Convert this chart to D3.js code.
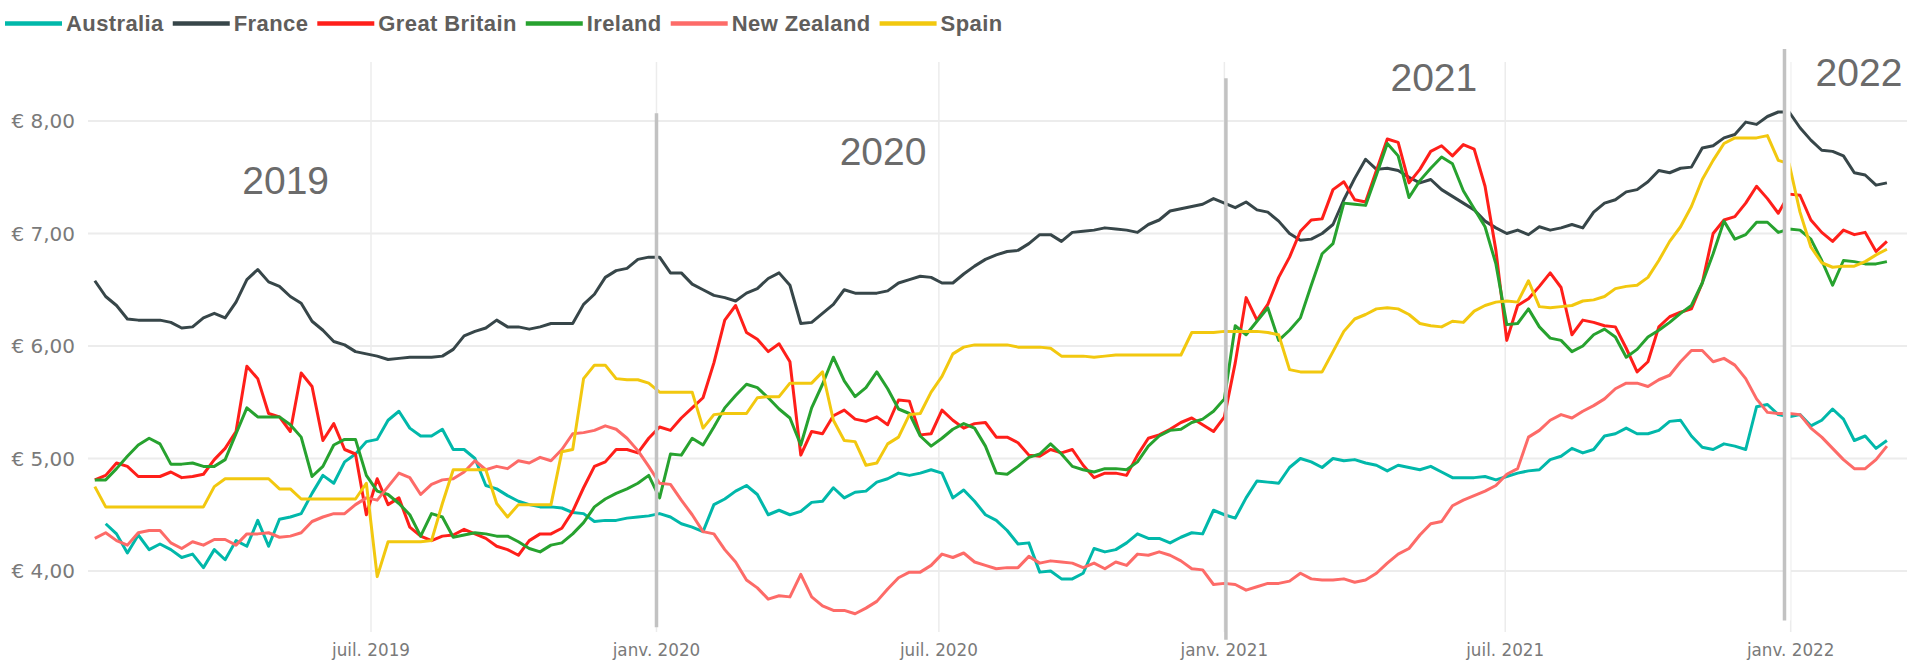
<!DOCTYPE html>
<html>
<head>
<meta charset="utf-8">
<script src="https://cdn.jsdelivr.net/npm/d3@7"></script>
<style>
  body { margin: 0; background: #fff; }
  svg { display: block; }
</style>
</head>
<body>
<div id="chart"></div>
<script>
// weekly prices, first week starts 4 Jan 2019
const firstWeek = "2019-01-04"
const countries = ["Australia", "France", "Great Britain", "Ireland", "New Zealand", "Spain"]
const colors = ["#01B8AA", "#374649", "#FF1F1A", "#27A22F", "#FD6B68", "#F2C80F"]

const australia = [null, 4.42, 4.33, 4.16, 4.32, 4.19, 4.24, 4.19, 4.12, 4.15, 4.03, 4.19, 4.10, 4.27, 4.22, 4.45, 4.22, 4.46, 4.48, 4.51, 4.69, 4.85, 4.78, 4.97, 5.04, 5.15, 5.17, 5.34,
  5.42, 5.27, 5.20, 5.20, 5.26, 5.08, 5.08, 5.00, 4.76, 4.73, 4.67, 4.62, 4.59, 4.57, 4.57, 4.56, 4.52, 4.51, 4.44, 4.45, 4.45, 4.47, 4.48, 4.49, 4.51, 4.48, 4.42,
  4.39, 4.35, 4.59, 4.64, 4.71, 4.76, 4.68, 4.50, 4.54, 4.50, 4.53, 4.61, 4.62, 4.74, 4.65, 4.70, 4.71, 4.79, 4.82, 4.87, 4.85, 4.87, 4.90, 4.87, 4.65, 4.72, 4.62,
  4.50, 4.45, 4.36, 4.24, 4.25, 3.99, 4.00, 3.93, 3.93, 3.98, 4.20, 4.17, 4.19, 4.25, 4.33, 4.29, 4.29, 4.25, 4.30, 4.34, 4.33, 4.54, 4.50, 4.47, 4.65, 4.80, 4.79,
  4.78, 4.92, 5.00, 4.97, 4.92, 5.00, 4.98, 4.99, 4.96, 4.94, 4.89, 4.94, 4.92, 4.90, 4.93, 4.88, 4.83, 4.83, 4.83, 4.84, 4.81, 4.84, 4.87, 4.89, 4.90, 4.99, 5.02,
  5.09, 5.05, 5.08, 5.20, 5.22, 5.27, 5.22, 5.22, 5.25, 5.33, 5.34, 5.20, 5.10, 5.08, 5.13, 5.11, 5.08, 5.46, 5.48, 5.39, 5.37, 5.39, 5.29, 5.34, 5.44, 5.35, 5.16, 5.20, 5.09, 5.16]

const france = [6.58, 6.44, 6.36, 6.24, 6.23, 6.23, 6.23, 6.21, 6.16, 6.17, 6.25, 6.29, 6.25, 6.39, 6.59, 6.68, 6.57, 6.53, 6.44, 6.38, 6.22, 6.14, 6.04, 6.01, 5.95, 5.93, 5.91, 5.88,
  5.89, 5.90, 5.90, 5.90, 5.91, 5.97, 6.09, 6.13, 6.16, 6.23, 6.17, 6.17, 6.15, 6.17, 6.20, 6.20, 6.20, 6.37, 6.46, 6.61, 6.67, 6.69, 6.77, 6.79, 6.79, 6.65, 6.65,
  6.55, 6.50, 6.45, 6.43, 6.40, 6.47, 6.51, 6.60, 6.65, 6.54, 6.20, 6.21, 6.29, 6.37, 6.50, 6.47, 6.47, 6.47, 6.49, 6.56, 6.59, 6.62, 6.61, 6.56, 6.56, 6.64, 6.71,
  6.77, 6.81, 6.84, 6.85, 6.91, 6.99, 6.99, 6.93, 7.01, 7.02, 7.03, 7.05, 7.04, 7.03, 7.01, 7.08, 7.12, 7.20, 7.22, 7.24, 7.26, 7.31, 7.27, 7.23, 7.28, 7.21, 7.19,
  7.11, 7.00, 6.94, 6.95, 7.00, 7.08, 7.30, 7.49, 7.66, 7.57, 7.58, 7.56, 7.50, 7.45, 7.48, 7.39, 7.33, 7.27, 7.21, 7.11, 7.05, 7.00, 7.03, 6.99, 7.06, 7.03, 7.05,
  7.08, 7.05, 7.19, 7.27, 7.30, 7.37, 7.39, 7.46, 7.56, 7.54, 7.58, 7.59, 7.76, 7.78, 7.85, 7.88, 7.99, 7.97, 8.04, 8.08, 8.08, 7.94, 7.83, 7.74, 7.73, 7.69, 7.54, 7.52, 7.43, 7.45]

const greatBritain = [4.81, 4.85, 4.96, 4.93, 4.84, 4.84, 4.84, 4.88, 4.83, 4.84, 4.86, 4.99, 5.09, 5.24, 5.82, 5.71, 5.40, 5.37, 5.24, 5.76, 5.64, 5.16, 5.31, 5.08, 5.04, 4.50, 4.82, 4.59,
  4.65, 4.39, 4.31, 4.27, 4.31, 4.32, 4.37, 4.33, 4.29, 4.22, 4.19, 4.14, 4.27, 4.33, 4.33, 4.38, 4.53, 4.74, 4.93, 4.97, 5.08, 5.08, 5.05, 5.18, 5.28, 5.25, 5.36,
  5.45, 5.54, 5.85, 6.23, 6.36, 6.12, 6.06, 5.95, 6.02, 5.86, 5.03, 5.24, 5.22, 5.38, 5.43, 5.35, 5.33, 5.37, 5.30, 5.52, 5.51, 5.21, 5.22, 5.43, 5.34, 5.27, 5.31,
  5.32, 5.19, 5.19, 5.14, 5.03, 5.02, 5.08, 5.05, 5.08, 4.94, 4.83, 4.87, 4.87, 4.85, 5.03, 5.18, 5.21, 5.26, 5.32, 5.36, 5.30, 5.24, 5.37, 5.85, 6.43, 6.23, 6.37,
  6.61, 6.79, 7.02, 7.12, 7.13, 7.39, 7.46, 7.30, 7.28, 7.56, 7.84, 7.81, 7.45, 7.57, 7.73, 7.78, 7.69, 7.79, 7.75, 7.42, 6.85, 6.05, 6.36, 6.42, 6.53, 6.65, 6.52,
  6.10, 6.23, 6.21, 6.18, 6.17, 5.98, 5.77, 5.86, 6.17, 6.26, 6.30, 6.33, 6.56, 7.00, 7.12, 7.15, 7.27, 7.42, 7.31, 7.18, 7.35, 7.34, 7.12, 7.01, 6.93, 7.03, 6.99, 7.01, 6.84, 6.93]

const ireland = [4.81, 4.81, 4.91, 5.02, 5.12, 5.18, 5.13, 4.95, 4.95, 4.96, 4.93, 4.93, 4.99, 5.22, 5.45, 5.37, 5.37, 5.37, 5.30, 5.19, 4.84, 4.93, 5.12, 5.17, 5.17, 4.85, 4.71, 4.68,
  4.60, 4.50, 4.31, 4.51, 4.48, 4.30, 4.32, 4.34, 4.33, 4.31, 4.31, 4.26, 4.20, 4.17, 4.23, 4.25, 4.33, 4.43, 4.57, 4.64, 4.69, 4.73, 4.78, 4.85, 4.65, 5.04, 5.03,
  5.18, 5.12, 5.28, 5.45, 5.56, 5.66, 5.63, 5.54, 5.44, 5.36, 5.12, 5.45, 5.66, 5.90, 5.69, 5.55, 5.63, 5.77, 5.62, 5.44, 5.40, 5.20, 5.11, 5.18, 5.26, 5.31, 5.27,
  5.11, 4.87, 4.86, 4.93, 5.01, 5.04, 5.13, 5.04, 4.93, 4.90, 4.88, 4.91, 4.91, 4.90, 4.97, 5.11, 5.20, 5.25, 5.26, 5.32, 5.35, 5.42, 5.53, 6.18, 6.10, 6.22, 6.34,
  6.05, 6.14, 6.25, 6.54, 6.82, 6.91, 7.27, 7.26, 7.25, 7.52, 7.80, 7.69, 7.32, 7.47, 7.58, 7.68, 7.62, 7.38, 7.22, 7.06, 6.73, 6.19, 6.20, 6.33, 6.17, 6.07, 6.05,
  5.95, 6.00, 6.10, 6.15, 6.08, 5.90, 5.97, 6.08, 6.14, 6.21, 6.29, 6.36, 6.56, 6.82, 7.11, 6.95, 6.99, 7.10, 7.10, 7.01, 7.04, 7.03, 6.95, 6.76, 6.54, 6.76, 6.75, 6.73, 6.73, 6.75]

const newZealand = [4.29, 4.34, 4.27, 4.23, 4.34, 4.36, 4.36, 4.25, 4.20, 4.26, 4.23, 4.28, 4.28, 4.23, 4.33, 4.33, 4.34, 4.30, 4.31, 4.34, 4.44, 4.48, 4.51, 4.51, 4.59, 4.65, 4.63, 4.75,
  4.87, 4.83, 4.68, 4.77, 4.81, 4.82, 4.88, 4.98, 4.90, 4.93, 4.91, 4.98, 4.96, 5.01, 4.98, 5.08, 5.22, 5.23, 5.25, 5.29, 5.26, 5.18, 5.07, 4.93, 4.78, 4.77, 4.63,
  4.50, 4.35, 4.33, 4.19, 4.08, 3.92, 3.85, 3.75, 3.78, 3.77, 3.97, 3.77, 3.69, 3.65, 3.65, 3.62, 3.67, 3.73, 3.84, 3.94, 3.99, 3.99, 4.05, 4.15, 4.12, 4.16, 4.08,
  4.05, 4.02, 4.03, 4.03, 4.13, 4.07, 4.09, 4.08, 4.07, 4.03, 4.07, 4.02, 4.08, 4.05, 4.15, 4.14, 4.17, 4.14, 4.09, 4.02, 4.01, 3.88, 3.89, 3.88, 3.83, 3.86, 3.89,
  3.89, 3.91, 3.98, 3.93, 3.92, 3.92, 3.93, 3.90, 3.92, 3.98, 4.07, 4.15, 4.20, 4.32, 4.42, 4.44, 4.58, 4.63, 4.67, 4.71, 4.76, 4.86, 4.91, 5.19, 5.25, 5.34, 5.39,
  5.36, 5.42, 5.47, 5.53, 5.62, 5.67, 5.67, 5.64, 5.70, 5.74, 5.86, 5.96, 5.96, 5.86, 5.89, 5.83, 5.71, 5.53, 5.41, 5.40, 5.40, 5.39, 5.27, 5.19, 5.09, 4.99, 4.91, 4.91, 4.99, 5.11]

const spain = [4.75, 4.57, 4.57, 4.57, 4.57, 4.57, 4.57, 4.57, 4.57, 4.57, 4.57, 4.75, 4.82, 4.82, 4.82, 4.82, 4.82, 4.73, 4.73, 4.64, 4.64, 4.64, 4.64, 4.64, 4.64, 4.78, 3.95, 4.26,
  4.26, 4.26, 4.26, 4.27, 4.60, 4.90, 4.90, 4.90, 4.90, 4.60, 4.48, 4.59, 4.59, 4.59, 4.59, 5.06, 5.08, 5.71, 5.83, 5.83, 5.71, 5.70, 5.70, 5.67, 5.59, 5.59, 5.59,
  5.59, 5.27, 5.39, 5.40, 5.40, 5.40, 5.54, 5.55, 5.55, 5.67, 5.67, 5.67, 5.77, 5.34, 5.16, 5.15, 4.94, 4.96, 5.13, 5.19, 5.39, 5.40, 5.59, 5.73, 5.93, 5.99, 6.01,
  6.01, 6.01, 6.01, 5.99, 5.99, 5.99, 5.98, 5.91, 5.91, 5.91, 5.90, 5.91, 5.92, 5.92, 5.92, 5.92, 5.92, 5.92, 5.92, 6.12, 6.12, 6.12, 6.13, 6.13, 6.13, 6.13, 6.12,
  6.10, 5.79, 5.77, 5.77, 5.77, 5.95, 6.13, 6.24, 6.28, 6.33, 6.34, 6.33, 6.28, 6.20, 6.18, 6.17, 6.22, 6.21, 6.31, 6.36, 6.39, 6.40, 6.39, 6.58, 6.35, 6.34, 6.35,
  6.36, 6.40, 6.41, 6.44, 6.51, 6.53, 6.54, 6.61, 6.76, 6.93, 7.06, 7.24, 7.48, 7.65, 7.80, 7.85, 7.85, 7.85, 7.87, 7.65, 7.62, 7.19, 6.88, 6.74, 6.70, 6.71, 6.71, 6.75, 6.81, 6.86]

const yTicks = [4, 5, 6, 7, 8]
const xTickDates = ["2019-07-01", "2020-01-01", "2020-07-01", "2021-01-01", "2021-07-01", "2022-01-01"]
const xTickLabels = ["juil. 2019", "janv. 2020", "juil. 2020", "janv. 2021", "juil. 2021", "janv. 2022"]

// year annotations and separators
const yearLabels = ["2019", "2020", "2021", "2022"]
const yearDates = ["2019-05-07", "2020-05-26", "2021-05-16", "2022-02-14"]
const yearValues = [7.35, 7.61, 8.27, 8.31]
const sepDates = ["2020-01-01", "2021-01-02", "2021-12-28"]
const sepTop = [8.07, 8.38, 8.64]
const sepBottom = [3.50, 3.39, 3.56]

const series = [australia, france, greatBritain, ireland, newZealand, spain]
const parse = d3.utcParse("%Y-%m-%d")
const start = parse(firstWeek)
const weeks = d3.range(france.length).map(i => d3.utcDay.offset(start, 7 * i))

var width = 1907, height = 664

var svg = d3.select("#chart")
  .append("svg")
    .attr("width", width)
    .attr("height", height)

var x = d3.scaleUtc()
  .domain([parse("2019-07-01"), parse("2022-01-01")])
  .range([371, 1790.7])

var y = d3.scaleLinear()
  .domain([4, 8])
  .range([571, 121])

// gridlines
svg.append("g")
  .selectAll("line")
  .data(yTicks)
  .join("line")
    .attr("x1", 88).attr("x2", width)
    .attr("y1", d => y(d)).attr("y2", d => y(d))
    .attr("stroke", "#ececec")
    .attr("stroke-width", 2)

svg.append("g")
  .selectAll("line")
  .data(xTickDates)
  .join("line")
    .attr("x1", d => x(parse(d))).attr("x2", d => x(parse(d)))
    .attr("y1", 62).attr("y2", 632)
    .attr("stroke", "#ececec")
    .attr("stroke-width", 1.5)

// y axis labels
svg.append("g")
  .selectAll("text")
  .data(yTicks)
  .join("text")
    .attr("x", 75)
    .attr("y", d => y(d))
    .attr("dy", "0.35em")
    .attr("text-anchor", "end")
    .attr("font-family", "DejaVu Sans")
    .attr("font-size", 20)
    .attr("fill", "#7a7a7a")
    .text(d => "€ " + d3.format(".2f")(d).replace(".", ","))

// x axis labels
svg.append("g")
  .selectAll("text")
  .data(xTickDates)
  .join("text")
    .attr("x", d => x(parse(d)))
    .attr("y", 656)
    .attr("text-anchor", "middle")
    .attr("font-family", "DejaVu Sans")
    .attr("font-size", 16.8)
    .attr("fill", "#7a7a7a")
    .text((d, i) => xTickLabels[i])

// lines
var line = d3.line()
  .defined(d => d[1] != null)
  .x(d => x(d[0]))
  .y(d => y(d[1]))

series.forEach(function (vals, k) {
  svg.append("path")
    .attr("d", line(d3.zip(weeks, vals)))
    .attr("fill", "none")
    .attr("stroke", colors[k])
    .attr("stroke-width", 3)
    .attr("stroke-linejoin", "round")
})

// separators
sepDates.forEach(function (d, i) {
  var sx = x(parse(d))
  if (i == 2) {
    svg.append("rect")
      .attr("x", sx - 1).attr("y", y(sepTop[i]))
      .attr("width", 7).attr("height", y(sepBottom[i]) - y(sepTop[i]))
      .attr("fill", "#fff")
  }
  svg.append("line")
    .attr("x1", sx).attr("x2", sx)
    .attr("y1", y(sepTop[i])).attr("y2", y(sepBottom[i]))
    .attr("stroke", "#c2c2c2")
    .attr("stroke-width", 3.5)
})

// year labels
svg.append("g")
  .selectAll("text")
  .data(yearLabels)
  .join("text")
    .attr("x", (d, i) => x(parse(yearDates[i])))
    .attr("y", (d, i) => y(yearValues[i]))
    .attr("text-anchor", "middle")
    .attr("font-family", "Liberation Sans")
    .attr("font-size", 39)
    .attr("fill", "#6b6b6b")
    .text(d => d)

// legend
var lx = 5
countries.forEach(function (c, i) {
  svg.append("line")
    .attr("x1", lx).attr("x2", lx + 57)
    .attr("y1", 23.5).attr("y2", 23.5)
    .attr("stroke", colors[i])
    .attr("stroke-width", 4.5)
  var t = svg.append("text")
    .attr("x", lx + 61)
    .attr("y", 31)
    .attr("font-family", "Liberation Sans")
    .attr("font-weight", "bold")
    .attr("font-size", 22)
    .attr("letter-spacing", 0.4)
    .attr("fill", "#605e5c")
    .text(c)
  lx += 61 + t.node().getComputedTextLength() + 9
})
</script>
</body>
</html>
